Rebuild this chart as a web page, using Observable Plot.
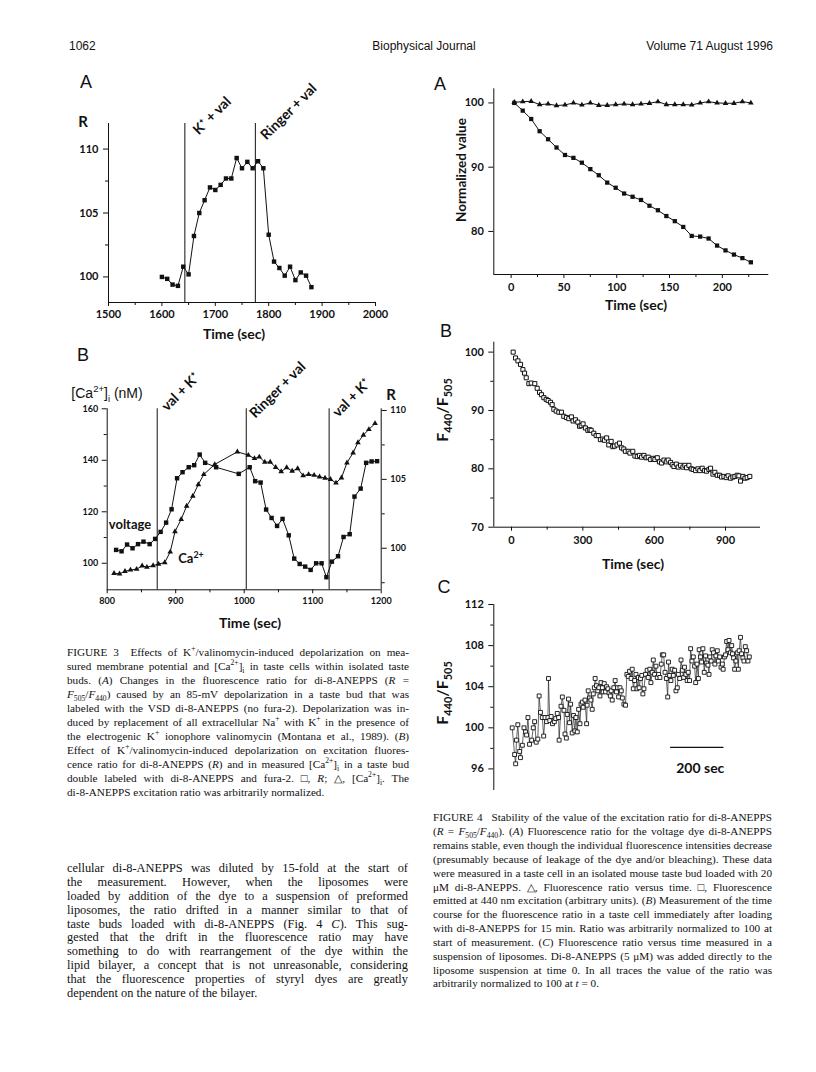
<!DOCTYPE html>
<html><head><meta charset="utf-8">
<script src="https://cdn.jsdelivr.net/npm/d3@7"></script>
<script src="https://cdn.jsdelivr.net/npm/@observablehq/plot@0.6"></script>
<style>
html,body{margin:0;padding:0;background:#fff;}
#page{position:relative;width:816px;height:1072px;overflow:hidden;background:#fff;color:#111;}
.c{position:absolute;transform:translate(-50%,-50%);white-space:nowrap;}
.jl{position:absolute;white-space:nowrap;}
sup,sub{font-size:68%;line-height:0;}
.hdr{font-family:"Liberation Sans",Arial,sans-serif;font-size:12px;position:absolute;white-space:nowrap;}
.pl{font-family:"Liberation Sans",Arial,sans-serif;font-size:18px;}
.bl{font-family:Lato,sans-serif;font-weight:bold;}
</style></head>
<body><div id="page"></div>
<script>
// ---------- DATA ----------
// Fig 3A: ratio R vs time (s)
const fig3aTime = [1600,1610,1620,1630,1640,1650,1660,1670,1680,1690,1700,1710,1720,1730,1740,1750,1760,1770,1780,1790,1800,1810,1820,1830,1840,1850,1860,1870,1880];
const fig3aR = [100.0,99.85,99.4,99.3,100.8,100.2,103.2,105.0,106.0,107.0,106.8,107.2,107.7,107.7,109.3,108.5,109.0,108.5,109.05,108.5,103.3,101.2,100.7,100.1,100.8,99.75,100.35,100.1,99.2];
const fig3aEvents = [{t:1643,label:"K\u207A + val"},{t:1775,label:"Ringer + val"}];
const fig3aXTicks = [1500,1600,1700,1800,1900,2000];
const fig3aYTicks = [100,105,110];

// Fig 3B: voltage (R, squares) and Ca2+ (nM, triangles)
const fig3bVoltage = [[813,99.88],[821,99.78],[829,100.27],[837,100.0],[845,100.3],[853,100.48],[862,100.3],[870,100.68],[878,101.19],[886,101.86],[894,102.83],[902,105.08],[910,105.52],[919,105.88],[927,106.03],[935,106.8],[943,106.2],[959,105.88],[992,105.4],[1008,105.88],[1016,104.87],[1024,104.77],[1032,102.81],[1040,102.2],[1048,101.62],[1056,102.13],[1065,100.94],[1073,99.25],[1081,98.86],[1089,98.67],[1097,98.43],[1105,98.91],[1113,98.91],[1120,97.9],[1128,99.03],[1137,99.42],[1145,100.82],[1154,101.02],[1161,103.75],[1170,104.33],[1178,106.2],[1186,106.3],[1194,106.32]];
const fig3bCa = [[810,96.1],[818,95.9],[826,96.9],[834,97.4],[843,97.7],[851,99.0],[858,98.5],[867,99.1],[875,99.7],[884,100.3],[892,104.4],[899,112.3],[908,117.1],[916,122.2],[925,126.1],[933,130.6],[941,134.5],[957,138.4],[990,143.3],[1006,142.0],[1015,140.7],[1022,141.3],[1030,139.3],[1038,139.3],[1046,137.3],[1054,135.6],[1062,137.2],[1070,135.8],[1078,136.8],[1086,134.0],[1094,134.5],[1102,134.2],[1110,133.6],[1118,133.1],[1126,132.6],[1134,131.2],[1142,133.2],[1150,139.0],[1159,142.9],[1166,146.9],[1174,149.8],[1182,152.0],[1191,154.3]];
const fig3bEvents = [{t:873,label:"val + K\u207A"},{t:1003,label:"Ringer + val"},{t:1124,label:"val + K\u207A"}];
const fig3bXTicks = [800,900,1000,1100,1200];
const fig3bCaTicks = [100,120,140,160];
const fig3bRTicks = [100,105,110];

// Fig 4A
const fig4aTime = [3,11,19,27,35,43,51,59,67,75,83,91,99,107,115,123,131,139,147,155,163,171,179,187,195,203,211,219,227];
const fig4aFluor = [100,98.8,97.5,95.6,94.35,93.06,91.9,91.45,90.7,89.7,88.75,87.6,86.8,85.9,85.4,84.9,84.0,83.3,82.4,81.6,80.7,79.3,79.2,78.9,77.8,77.05,76.4,75.85,75.2];
const fig4aRatio = [100.1,100.2,100.26,99.74,99.84,99.59,99.69,100,99.69,100,99.64,99.64,99.74,99.84,99.74,99.84,99.95,100.2,99.74,99.74,99.74,99.69,100,100.2,100,99.95,99.95,100.2,100];
const fig4aXTicks = [0,50,100,150,200];
const fig4aYTicks = [80,90,100];

// Fig 4B: [time s, F440/F505]
const fig4b = [[7,100],[17,99.0],[27,98.5],[38,97.9],[48,97.0],[55,96.4],[62,95.6],[73,94.6],[83,94.7],[98,94.6],[108,93.8],[118,93.1],[126,92.7],[136,92.2],[146,91.9],[154,91.7],[164,91.4],[171,91.0],[178,90.2],[188,89.9],[199,89.7],[210,89.7],[220,89.0],[231,88.8],[241,88.6],[252,88.9],[259,88.2],[269,88.4],[279,88.0],[286,87.3],[293,87.4],[301,87.7],[311,87.0],[321,86.6],[329,86.7],[335,86.6],[346,86.1],[356,85.7],[365,85.7],[374,85.0],[384,85.1],[391,84.9],[400,85.3],[409,84.1],[419,84.7],[426,83.8],[433,83.9],[444,84.1],[454,84.4],[463,83.6],[472,83.4],[479,83.0],[491,83.0],[498,82.7],[510,83.0],[519,82.2],[529,82.1],[538,82.3],[547,82.0],[557,82.3],[566,81.9],[575,82.0],[585,81.6],[596,81.8],[603,81.6],[613,81.9],[622,81.2],[631,81.0],[641,81.5],[651,81.2],[659,81.5],[669,81.1],[676,80.7],[683,80.4],[693,80.8],[701,80.3],[711,80.6],[721,80.3],[729,80.6],[736,80.2],[746,80.6],[756,80.0],[764,79.9],[774,79.7],[784,80.0],[792,79.7],[802,80.1],[812,79.7],[820,79.6],[830,79.9],[837,80.1],[847,79.1],[855,79.4],[865,78.9],[875,78.9],[883,78.6],[893,78.7],[903,78.5],[911,78.8],[921,78.4],[931,78.6],[939,78.7],[949,78.9],[956,78.8],[963,77.9],[973,78.7],[982,78.4],[991,78.5],[1002,78.7]];
const fig4bXTicks = [0,300,600,900];
const fig4bYTicks = [70,80,90,100];

// Fig 4C: [time s, F440/F505]
const fig4c = [[0,100.0],[9,97.4],[13,96.5],[16,98.8],[21,100.3],[28,97.7],[31,97.1],[38,98.3],[44,100],[50,99.6],[54,99.3],[59,101.0],[65,98.4],[73,98.8],[79,100],[84,100.6],[90,98.6],[96,98.9],[101,103.1],[106,101.5],[113,101.0],[118,99.2],[123,101.0],[129,100.6],[134,101.0],[136,104.8],[141,100.7],[146,101.1],[151,100.4],[158,100.6],[163,100.9],[169,101.4],[174,101.0],[176,98.8],[183,102.1],[188,103.0],[194,101.7],[198,99.4],[203,99.0],[206,101.3],[211,102.8],[215,100.5],[219,102.3],[225,99.5],[230,101.2],[235,99.7],[239,101.0],[244,99.6],[249,101.8],[254,100.4],[258,102.3],[263,102.5],[266,102.0],[273,102.7],[279,100.4],[281,102.2],[285,103.6],[290,102.9],[295,102.7],[300,101.8],[304,103.3],[308,103.9],[311,104.8],[316,104.1],[321,103.6],[325,103.9],[329,103.1],[333,104.4],[338,103.9],[341,103.5],[345,104.3],[350,103.5],[354,104.0],[359,103.8],[363,103.4],[368,103.1],[371,103.6],[375,102.7],[381,103.9],[386,104.6],[391,103.5],[395,103.9],[399,103.0],[404,103.9],[409,103.6],[413,102.9],[419,102.3],[425,102.2],[430,105.2],[435,105.0],[440,105.5],[446,104.8],[450,105.7],[454,103.8],[459,104.6],[464,105.2],[468,103.8],[473,104.9],[476,103.9],[481,104.8],[486,105.1],[490,103.3],[494,103.8],[500,105.2],[506,105.6],[510,104.9],[516,105.7],[520,104.4],[525,105.4],[529,106.6],[534,105.2],[539,106.0],[544,104.9],[549,105.2],[554,104.9],[559,106.2],[563,107.1],[568,107.1],[573,105.4],[578,104.8],[583,103.0],[586,106.4],[590,105.1],[595,104.6],[600,105.7],[604,105.1],[609,105.6],[614,103.6],[619,103.9],[623,105.2],[628,104.8],[633,106.6],[638,105.6],[643,104.9],[646,105.9],[651,105.2],[656,104.6],[660,105.4],[665,104.6],[669,107.7],[674,106.5],[679,106.9],[684,106.0],[688,104.4],[693,106.2],[698,104.8],[701,107.6],[706,106.9],[710,106.4],[715,107.7],[720,105.4],[725,107.0],[729,106.3],[734,106.1],[738,105.2],[741,106.9],[746,106.5],[750,107.6],[755,107.3],[760,106.2],[764,107.0],[769,107.5],[773,106.5],[778,106.9],[783,105.9],[788,106.2],[791,105.7],[796,106.9],[800,107.1],[804,108.4],[809,107.6],[813,108.5],[818,107.3],[823,108.0],[826,107.2],[830,106.8],[834,105.7],[839,106.5],[844,107.3],[848,105.7],[851,107.5],[856,108.8],[860,107.2],[865,106.8],[869,106.5],[874,107.9],[879,107.5],[884,106.5],[889,106.9]];
const fig4cYTicks = [96,100,104,108,112];
const fig4cScaleBar = [{start:594, length:200, y:98.1, label:"200 sec"}];

// Text
const fig3Caption = [
 'FIGURE 3&ensp; Effects of K<sup>+</sup>/valinomycin-induced depolarization on mea-',
 'sured membrane potential and [Ca<sup>2+</sup>]<sub>i</sub> in taste cells within isolated taste',
 'buds. (<i>A</i>) Changes in the fluorescence ratio for di-8-ANEPPS (<i>R</i> =',
 '<i>F</i><sub>505</sub>/<i>F</i><sub>440</sub>) caused by an 85-mV depolarization in a taste bud that was',
 'labeled with the VSD di-8-ANEPPS (no fura-2). Depolarization was in-',
 'duced by replacement of all extracellular Na<sup>+</sup> with K<sup>+</sup> in the presence of',
 'the electrogenic K<sup>+</sup> ionophore valinomycin (Montana et al., 1989). (<i>B</i>)',
 'Effect of K<sup>+</sup>/valinomycin-induced depolarization on excitation fluores-',
 'cence ratio for di-8-ANEPPS (<i>R</i>) and in measured [Ca<sup>2+</sup>]<sub>i</sub> in a taste bud',
 'double labeled with di-8-ANEPPS and fura-2. &#9633;, <i>R</i>; &#9651;, [Ca<sup>2+</sup>]<sub>i</sub>. The',
 'di-8-ANEPPS excitation ratio was arbitrarily normalized.'
];
const bodyText = [
 'cellular di-8-ANEPPS was diluted by 15-fold at the start of',
 'the measurement. However, when the liposomes were',
 'loaded by addition of the dye to a suspension of preformed',
 'liposomes, the ratio drifted in a manner similar to that of',
 'taste buds loaded with di-8-ANEPPS (Fig. 4 <i>C</i>). This sug-',
 'gested that the drift in the fluorescence ratio may have',
 'something to do with rearrangement of the dye within the',
 'lipid bilayer, a concept that is not unreasonable, considering',
 'that the fluorescence properties of styryl dyes are greatly',
 'dependent on the nature of the bilayer.'
];
const fig4Caption = [
 'FIGURE 4&ensp; Stability of the value of the excitation ratio for di-8-ANEPPS',
 '(<i>R</i> = <i>F</i><sub>505</sub>/<i>F</i><sub>440</sub>). (<i>A</i>) Fluorescence ratio for the voltage dye di-8-ANEPPS',
 'remains stable, even though the individual fluorescence intensities decrease',
 '(presumably because of leakage of the dye and/or bleaching). These data',
 'were measured in a taste cell in an isolated mouse taste bud loaded with 20',
 '&mu;M di-8-ANEPPS. &#9651;, Fluorescence ratio versus time. &#9633;, Fluorescence',
 'emitted at 440 nm excitation (arbitrary units). (<i>B</i>) Measurement of the time',
 'course for the fluorescence ratio in a taste cell immediately after loading',
 'with di-8-ANEPPS for 15 min. Ratio was arbitrarily normalized to 100 at',
 'start of measurement. (<i>C</i>) Fluorescence ratio versus time measured in a',
 'suspension of liposomes. Di-8-ANEPPS (5 &mu;M) was added directly to the',
 'liposome suspension at time 0. In all traces the value of the ratio was',
 'arbitrarily normalized to 100 at <i>t</i> = 0.'
];

// ---------- HELPERS ----------
const page = document.getElementById("page");
function put(node, left, top){ node.style.position="absolute"; node.style.left=left+"px"; node.style.top=top+"px"; page.appendChild(node); return node; }
function label(html, x, y, cls, css){ const d=document.createElement("div"); d.className="c "+(cls||""); d.innerHTML=html; d.style.left=x+"px"; d.style.top=y+"px"; if(css) d.style.cssText+=css; page.appendChild(d); return d; }
function block(lines, left, firstCenter, width, lh, size){
  lines.forEach((html,i)=>{
    const d=document.createElement("div"); d.className="jl";
    d.style.cssText=`left:${left}px;top:${firstCenter + i*lh - size*0.78}px;font-family:"Liberation Serif","Times New Roman",serif;font-size:${size}px;line-height:${size*1.1}px;color:#111;`;
    d.innerHTML=html; page.appendChild(d);
    if(i < lines.length-1){
      const w=d.getBoundingClientRect().width;
      const n=(d.textContent.match(/ /g)||[]).length;
      if(n) d.style.wordSpacing=((width-w)/n)+"px";
    }
  });
}
const st = (fs) => ({fontFamily:"Lato, sans-serif", fontSize:fs, fontWeight:"bold", overflow:"visible", background:"transparent", color:"#111"});
const fmt = d => String(d);
const blank = () => "";
const annot = (data, extra) => Plot.text(data, Object.assign({x:"t", text:"label", rotate:-45, textAnchor:"start", lineAnchor:"bottom", fontSize:14, fontWeight:"bold"}, extra));

// ---------- HEADER ----------
const h1=document.createElement("div"); h1.className="hdr"; h1.textContent="1062"; put(h1,69,39);
const h2=document.createElement("div"); h2.className="hdr"; h2.textContent="Biophysical Journal"; h2.style.transform="translateX(-50%)"; put(h2,424,39);
const h3=document.createElement("div"); h3.className="hdr"; h3.textContent="Volume 71 August 1996"; h3.style.transform="translateX(-100%)"; put(h3,773,39);

// ---------- FIG 3A ----------
const f3a = fig3aTime.map((t,i)=>({t, r:fig3aR[i]}));
put(Plot.plot({
  width:370, height:275, marginLeft:68, marginRight:35, marginTop:63, marginBottom:33,
  x:{domain:[1500,2000]}, y:{domain:[98,112]}, style:st("11px"),
  marks:[
    Plot.ruleX([1500],{stroke:"#111"}), Plot.ruleY([98],{stroke:"#111"}),
    Plot.axisX(fig3aXTicks,{tickSize:4, tickPadding:4, tickFormat:fmt, label:null}),
    Plot.axisX(fig3aXTicks.slice(0,-1).map(d=>d+50),{tickSize:3, tickFormat:blank, label:null}),
    Plot.axisY(fig3aYTicks,{tickSize:5, tickPadding:5, tickFormat:fmt, label:null}),
    Plot.axisY([102.5,107.5],{tickSize:3, tickFormat:blank, label:null}),
    Plot.ruleX(fig3aEvents,{x:"t", stroke:"#111", strokeWidth:1}),
    Plot.line(f3a,{x:"t", y:"r", stroke:"#111", strokeWidth:1}),
    Plot.dot(f3a,{x:"t", y:"r", symbol:"square", r:2.5, fill:"#111", stroke:"none"}),
    annot([fig3aEvents[0]],{y:()=>112, dx:14, dy:12}),
    annot([fig3aEvents[1]],{y:()=>112, dx:11, dy:17})
  ]
}), 40, 60);
label("A",86,82,"pl");
label("R",83,121,"bl","font-size:15px;");
label("Time (sec)",234,333,"bl","font-size:14px;");

// ---------- FIG 3B ----------
const rToNm = d3.scaleLinear().domain([100,110]).range([105.83,159.35]);
put(Plot.plot({
  width:380, height:280, marginLeft:66.7, marginRight:39.3, marginTop:68.3, marginBottom:30.7,
  x:{domain:[800,1200]}, y:{domain:[89.7,160]}, style:st("9px"),
  marks:[
    Plot.ruleX([800,1200],{stroke:"#111"}), Plot.ruleY([89.7],{stroke:"#111"}),
    Plot.axisX(fig3bXTicks,{tickSize:4, tickPadding:4, tickFormat:fmt, label:null}),
    Plot.axisX([850,950,1050,1150],{tickSize:3, tickFormat:blank, label:null}),
    Plot.axisY(fig3bCaTicks,{tickSize:5, tickPadding:4, tickFormat:fmt, label:null}),
    Plot.axisY([110,130,150],{tickSize:3, tickFormat:blank, label:null}),
    Plot.axisY(fig3bRTicks.map(rToNm),{anchor:"right", tickSize:5, tickPadding:4, tickFormat:d=>String(Math.round(rToNm.invert(d))), label:null}),
    Plot.axisY([97.5,102.5,107.5].map(rToNm),{anchor:"right", tickSize:3, tickFormat:blank, label:null}),
    Plot.ruleX(fig3bEvents,{x:"t", stroke:"#111", strokeWidth:1}),
    Plot.line(fig3bVoltage,{x:d=>d[0], y:d=>rToNm(d[1]), stroke:"#111", strokeWidth:1}),
    Plot.dot(fig3bVoltage,{x:d=>d[0], y:d=>rToNm(d[1]), symbol:"square", r:2.5, fill:"#111", stroke:"none"}),
    Plot.line(fig3bCa,{x:d=>d[0], y:d=>d[1], stroke:"#111", strokeWidth:1}),
    Plot.dot(fig3bCa,{x:d=>d[0], y:d=>d[1], symbol:"triangle", r:2.1, fill:"#111", stroke:"none"}),
    annot([fig3bEvents[0]],{y:()=>160, dx:10, dy:3}),
    annot([fig3bEvents[1]],{y:()=>160, dx:9, dy:10}),
    annot([fig3bEvents[2]],{y:()=>160, dx:9, dy:9})
  ]
}), 40, 340);
label("B",83,355,"pl");
label("[Ca<sup>2+</sup>]<sub>i</sub> (nM)",107,393,"","font-family:'Liberation Sans',Arial,sans-serif;font-size:14px;");
label("R",391,394,"bl","font-size:15px;");
label("voltage",130,524,"bl","font-size:13px;");
label("Ca<sup>2+</sup>",191,558,"bl","font-size:13px;");
label("Time (sec)",250,622,"bl","font-size:14px;");

// ---------- FIG 4A ----------
const f4a = fig4aTime.map((t,i)=>({t, f:fig4aFluor[i], r:fig4aRatio[i]}));
put(Plot.plot({
  width:380, height:250, marginLeft:73.3, marginRight:31.7, marginTop:18.3, marginBottom:46,
  x:{domain:[-16.4,244]}, y:{domain:[73.3,102.2]}, style:st("11px"),
  marks:[
    Plot.ruleX([-16.4],{stroke:"#111"}), Plot.ruleY([73.3],{stroke:"#111"}),
    Plot.axisX(fig4aXTicks,{tickSize:4, tickPadding:5, tickFormat:fmt, label:null}),
    Plot.axisX([25,75,125,175,225],{tickSize:3, tickFormat:blank, label:null}),
    Plot.axisY(fig4aYTicks,{tickSize:5, tickPadding:5, tickFormat:fmt, label:null}),
    Plot.line(f4a,{x:"t", y:"r", stroke:"#111", strokeWidth:1}),
    Plot.dot(f4a,{x:"t", y:"r", symbol:"triangle", r:2.1, fill:"#111", stroke:"none"}),
    Plot.line(f4a,{x:"t", y:"f", stroke:"#111", strokeWidth:1}),
    Plot.dot(f4a,{x:"t", y:"f", symbol:"square", r:2.4, fill:"#111", stroke:"none"})
  ]
}), 420, 70);
label("A",440,84,"pl");
label("Normalized value",461,170,"bl","font-size:13.5px;transform:translate(-50%,-50%) rotate(-90deg);");
label("Time (sec)",636,304,"bl","font-size:14px;");

// ---------- FIG 4B ----------
put(Plot.plot({
  width:380, height:230, marginLeft:73.3, marginRight:40, marginTop:11.7, marginBottom:33.3,
  x:{domain:[-74.4,1047]}, y:{domain:[70,101.7]}, style:st("11px"),
  marks:[
    Plot.ruleX([-74.4],{stroke:"#111"}), Plot.ruleY([70],{stroke:"#111"}),
    Plot.axisX(fig4bXTicks,{tickSize:4, tickPadding:5, tickFormat:fmt, label:null}),
    Plot.axisX([150,450,750],{tickSize:3, tickFormat:blank, label:null}),
    Plot.axisY(fig4bYTicks,{tickSize:5, tickPadding:5, tickFormat:fmt, label:null}),
    Plot.axisY([75,85,95],{tickSize:3, tickFormat:blank, label:null}),
    Plot.dot(fig4b,{x:d=>d[0], y:d=>d[1], symbol:"square", r:2.3, fill:"#fff", stroke:"#111", strokeWidth:1})
  ]
}), 420, 330);
label("B",446,331,"pl");
label("F<sub>440</sub>/F<sub>505</sub>",441,410,"bl","font-size:16px;transform:translate(-50%,-50%) rotate(-90deg);");
label("Time (sec)",633,563,"bl","font-size:14px;");

// ---------- FIG 4C ----------
put(Plot.plot({
  width:380, height:210, marginLeft:73.3, marginRight:32, marginTop:14, marginBottom:10,
  x:{domain:[-69,961], axis:null}, y:{domain:[93.9,112]}, style:st("11px"),
  marks:[
    Plot.ruleX([-69],{stroke:"#111"}),
    Plot.axisY(fig4cYTicks,{tickSize:5, tickPadding:5, tickFormat:fmt, label:null}),
    Plot.axisY([98,102,106,110],{tickSize:3, tickFormat:blank, label:null}),
    Plot.line(fig4c,{x:d=>d[0], y:d=>d[1], stroke:"#222", strokeWidth:0.7}),
    Plot.dot(fig4c,{x:d=>d[0], y:d=>d[1], symbol:"square", r:2.2, fill:"#fff", stroke:"#111", strokeWidth:0.9}),
    Plot.ruleY(fig4cScaleBar,{y:"y", x1:"start", x2:d=>d.start+d.length, stroke:"#111", strokeWidth:1.2}),
    Plot.text(fig4cScaleBar,{x:d=>d.start+d.length/2, y:"y", text:"label", dy:21, dx:3, fontSize:14, fontWeight:"bold"})
  ]
}), 420, 590);
label("C",444,587,"pl");
label("F<sub>440</sub>/F<sub>505</sub>",441,693,"bl","font-size:16px;transform:translate(-50%,-50%) rotate(-90deg);");

// ---------- TEXT ----------
block(fig3Caption, 67, 655, 342, 14.0, 11.2);
block(bodyText, 67, 872, 341, 13.8, 12.4);
block(fig4Caption, 433, 820, 339, 13.85, 11.2);
</script>
</body></html>
